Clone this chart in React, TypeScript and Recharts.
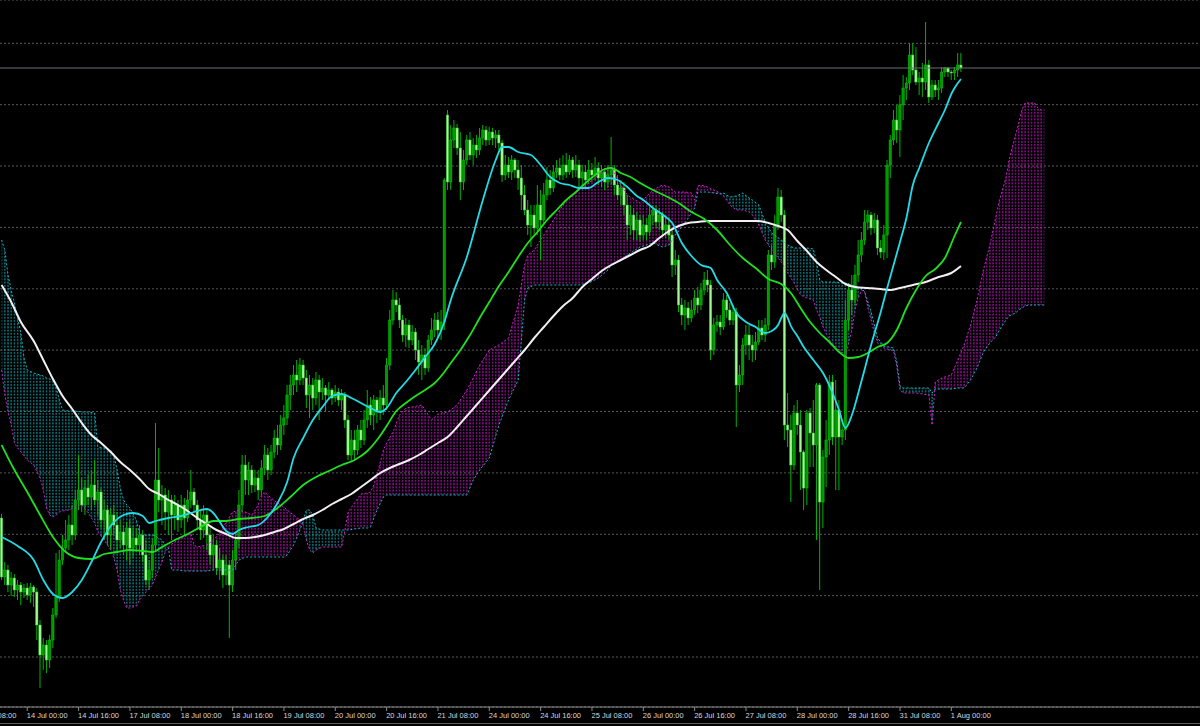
import React from "react";
import {
  ComposedChart,
  Bar,
  Line,
  Area,
  XAxis,
  YAxis,
  CartesianGrid,
  ReferenceLine,
} from "recharts";

// H1 bars, one array per session: [open, high, low, close] (price in points)
const jul13 = [
  [202, 206, 140, 143], [143, 158, 135, 150], [150, 155, 128, 135], [135, 148, 124, 142],
  [142, 146, 123, 130], [130, 140, 120, 135], [135, 138, 115, 128], [128, 136, 122, 132],
];
const jul14 = [
  [132, 137, 120, 125], [125, 137, 117, 133], [133, 135, 113, 128], [128, 132, 80, 95],
  [95, 100, 32, 65], [65, 82, 50, 75], [75, 80, 47, 60], [60, 85, 52, 80],
  [80, 112, 72, 105], [105, 167, 102, 123], [123, 170, 118, 160], [160, 185, 155, 172],
  [172, 200, 168, 180], [180, 205, 170, 195], [195, 215, 175, 185], [185, 230, 180, 220],
  [220, 265, 210, 230], [230, 242, 208, 215], [215, 240, 205, 232], [232, 245, 215, 223],
  [223, 250, 210, 235], [235, 260, 215, 220], [220, 240, 205, 228], [228, 232, 192, 200],
];
const jul17 = [
  [200, 220, 180, 210], [210, 215, 175, 185], [185, 212, 170, 205], [205, 215, 185, 195],
  [195, 208, 168, 180], [180, 200, 172, 188], [188, 195, 165, 175], [175, 198, 160, 192],
  [192, 200, 155, 172], [172, 194, 162, 182], [182, 192, 168, 175], [175, 195, 165, 185],
  [185, 190, 158, 165], [165, 180, 135, 140], [140, 160, 130, 150], [150, 182, 142, 175],
  [175, 297, 170, 240], [240, 272, 208, 220], [220, 235, 195, 225], [225, 232, 190, 208],
  [208, 230, 185, 220], [220, 225, 180, 205], [205, 225, 190, 215], [215, 220, 188, 200],
];
const jul18 = [
  [200, 225, 192, 215], [215, 222, 185, 202], [202, 230, 198, 220], [220, 250, 212, 228],
  [228, 232, 208, 215], [215, 220, 190, 200], [200, 210, 180, 190], [190, 215, 182, 205],
  [205, 210, 170, 185], [185, 192, 155, 165], [165, 185, 150, 175], [175, 180, 145, 152],
  [152, 172, 140, 160], [160, 165, 132, 145], [145, 165, 135, 155], [155, 160, 82, 135],
  [135, 170, 128, 160], [160, 188, 150, 180], [180, 230, 172, 215], [215, 265, 208, 255],
  [255, 265, 225, 240], [240, 258, 225, 250], [250, 255, 227, 235], [235, 250, 228, 242],
];
const jul19 = [
  [242, 250, 220, 230], [230, 260, 225, 252], [252, 275, 245, 265], [265, 272, 240, 250],
  [250, 275, 245, 268], [268, 290, 262, 282], [282, 295, 265, 275], [275, 305, 270, 295],
  [295, 315, 285, 302], [302, 335, 295, 325], [325, 345, 310, 335], [335, 355, 325, 345],
  [345, 360, 328, 340], [340, 362, 335, 355], [355, 360, 335, 342], [342, 350, 312, 325],
  [325, 345, 302, 335], [335, 342, 310, 322], [322, 348, 315, 340], [340, 345, 300, 328],
  [328, 342, 320, 332], [332, 335, 308, 325], [325, 338, 320, 330], [330, 332, 315, 322],
];
const jul20 = [
  [322, 335, 318, 328], [328, 332, 314, 320], [320, 331, 310, 325], [325, 328, 292, 300],
  [300, 305, 260, 265], [265, 290, 258, 280], [280, 290, 260, 270], [270, 295, 265, 290],
  [290, 300, 272, 280], [280, 310, 275, 300], [300, 330, 292, 315], [315, 323, 295, 305],
  [305, 325, 290, 320], [320, 323, 297, 308], [308, 330, 300, 322], [322, 335, 305, 315],
  [315, 362, 310, 355], [355, 410, 350, 400], [400, 430, 395, 420], [420, 428, 408, 415],
  [415, 422, 392, 400], [400, 405, 378, 385], [385, 402, 373, 395], [395, 400, 372, 380],
];
const jul21 = [
  [380, 395, 375, 388], [388, 392, 360, 370], [370, 380, 345, 358], [358, 375, 340, 365],
  [365, 372, 345, 352], [352, 385, 348, 380], [380, 402, 375, 390], [390, 407, 383, 400],
  [400, 408, 382, 390], [390, 410, 380, 398], [398, 542, 390, 540], [605, 610, 530, 538],
  [538, 595, 530, 580], [580, 600, 572, 592], [592, 596, 565, 572], [572, 588, 520, 538],
  [538, 570, 530, 560], [560, 585, 555, 580], [580, 588, 560, 565], [565, 582, 555, 575],
  [575, 585, 562, 570], [570, 592, 565, 582], [582, 595, 575, 590], [590, 594, 574, 580],
];
const jul24 = [
  [580, 593, 575, 588], [588, 592, 575, 582], [582, 590, 572, 585], [585, 590, 570, 577],
  [577, 580, 538, 545], [545, 565, 540, 555], [555, 563, 542, 548], [548, 565, 540, 560],
  [560, 562, 542, 550], [550, 560, 530, 542], [542, 555, 510, 525], [525, 535, 505, 510],
  [510, 520, 485, 495], [495, 515, 473, 505], [505, 515, 485, 492], [492, 535, 485, 515],
  [515, 530, 460, 500], [500, 537, 495, 525], [525, 553, 520, 540], [540, 550, 525, 532],
  [532, 555, 528, 548], [548, 560, 542, 552], [552, 562, 540, 545], [545, 565, 540, 555],
];
const jul25 = [
  [555, 567, 542, 548], [548, 565, 545, 560], [560, 563, 542, 550], [550, 565, 543, 555],
  [555, 560, 533, 542], [542, 555, 534, 548], [548, 555, 532, 540], [540, 560, 536, 550],
  [550, 557, 538, 545], [545, 563, 540, 552], [552, 558, 535, 542], [542, 555, 533, 548],
  [548, 552, 530, 538], [538, 555, 532, 545], [545, 583, 535, 550], [550, 555, 525, 535],
  [535, 545, 520, 525], [525, 540, 515, 532], [532, 538, 505, 515], [515, 525, 480, 495],
  [495, 515, 485, 505], [505, 512, 480, 490], [490, 508, 480, 500], [500, 505, 478, 485],
];
const jul26 = [
  [485, 505, 480, 495], [495, 502, 480, 488], [488, 513, 484, 505], [505, 515, 495, 510],
  [510, 515, 492, 498], [498, 512, 490, 505], [505, 508, 483, 490], [490, 502, 482, 495],
  [495, 503, 480, 485], [485, 492, 443, 455], [455, 470, 445, 460], [460, 465, 408, 415],
  [415, 422, 395, 405], [405, 420, 390, 412], [412, 418, 395, 402], [402, 420, 398, 410],
  [410, 430, 405, 422], [422, 433, 407, 415], [415, 437, 410, 430], [430, 448, 425, 440],
  [440, 450, 428, 435], [435, 440, 360, 370], [370, 402, 365, 395], [395, 405, 388, 398],
];
const jul27 = [
  [398, 405, 385, 393], [393, 427, 390, 420], [420, 425, 402, 410], [410, 417, 395, 400],
  [400, 415, 395, 408], [408, 412, 293, 335], [335, 355, 328, 345], [345, 382, 335, 375],
  [375, 395, 365, 385], [385, 395, 360, 375], [375, 385, 358, 370], [370, 388, 360, 378],
  [378, 400, 375, 392], [392, 400, 380, 385], [385, 402, 378, 395], [395, 470, 390, 465],
  [465, 475, 450, 458], [458, 505, 452, 495], [495, 532, 490, 523], [523, 530, 498, 505],
  [505, 510, 280, 295], [295, 327, 273, 290], [290, 305, 218, 255], [255, 315, 250, 307],
];
const jul28 = [
  [307, 320, 285, 295], [295, 310, 230, 268], [268, 270, 210, 232], [232, 310, 215, 307],
  [307, 312, 253, 287], [287, 320, 253, 275], [275, 337, 180, 335], [335, 337, 130, 218],
  [218, 270, 192, 263], [263, 300, 233, 280], [280, 345, 265, 338], [338, 345, 275, 283],
  [283, 340, 230, 310], [310, 320, 230, 283], [283, 300, 275, 290], [290, 420, 280, 400],
  [400, 437, 390, 430], [430, 445, 405, 420], [420, 455, 415, 445], [445, 480, 438, 465],
  [465, 488, 458, 480], [480, 510, 475, 498], [498, 510, 490, 505], [505, 508, 485, 492],
];
const jul31 = [
  [492, 507, 487, 500], [500, 505, 465, 472], [472, 480, 462, 468], [468, 495, 460, 485],
  [485, 560, 462, 555], [555, 585, 542, 580], [580, 610, 575, 600], [600, 615, 577, 590],
  [590, 625, 563, 615], [615, 645, 600, 632], [632, 643, 620, 637], [637, 677, 630, 665],
  [665, 677, 645, 650], [650, 673, 635, 638], [638, 648, 625, 642], [642, 657, 623, 638],
  [638, 698, 630, 655], [655, 660, 617, 623], [623, 640, 620, 635], [635, 640, 623, 630],
  [630, 640, 620, 632], [632, 653, 627, 648], [648, 653, 643, 652], [652, 653, 643, 648],
];
const aug01 = [
  [648, 650, 640, 647], [647, 653, 640, 650], [650, 667, 643, 655], [655, 667, 648, 652],
];

// moving averages: [bar index, value]
const maFast = [
  [0, 183], [5, 174], [10, 160], [13, 140], [16, 126], [19, 122], [22, 128], [25, 140],
  [28, 158], [31, 178], [35, 198], [38, 205], [41, 207], [44, 204], [46, 197], [48, 199],
  [52, 202], [56, 204], [60, 208], [64, 211], [66, 207], [68, 198], [70, 189], [72, 186],
  [74, 190], [77, 193], [80, 195], [83, 203], [86, 217], [89, 238], [91, 262], [94, 282],
  [97, 300], [100, 313], [103, 324], [106, 326], [109, 322], [112, 317], [115, 312], [118, 308],
  [120, 312], [123, 327], [126, 338], [129, 350], [132, 363], [135, 376], [138, 398], [140, 420],
  [145, 463], [150, 520], [154, 560], [156, 573], [158, 573], [161, 568], [165, 565], [168, 555],
  [171, 543], [174, 537], [177, 535], [180, 532], [183, 532], [186, 538], [189, 542], [192, 540],
  [195, 533], [198, 524], [200, 520], [203, 512], [207, 503], [209, 497], [212, 477], [215, 464],
  [218, 455], [221, 452], [223, 440], [226, 427], [229, 407], [232, 398], [235, 393], [238, 387],
  [240, 389], [242, 395], [243, 402], [244, 407], [245, 402], [246, 394], [248, 384], [250, 373],
  [253, 360], [256, 347], [259, 327], [261, 310], [263, 292], [265, 305], [268, 339], [271, 375],
  [274, 408], [276, 432], [278, 455], [280, 478], [282, 502], [284, 535], [286, 552], [289, 577],
  [292, 597], [294, 610], [296, 626], [297, 632], [299, 641],
];
const maMid = [
  [0, 275], [4, 250], [8, 228], [12, 205], [16, 183], [20, 168], [24, 162], [28, 161],
  [32, 166], [36, 168], [40, 170], [44, 169], [47, 168], [50, 173], [54, 180], [58, 186],
  [62, 193], [66, 199], [70, 199], [74, 201], [78, 202], [82, 204], [86, 212], [90, 223],
  [94, 235], [98, 243], [102, 249], [106, 255], [110, 260], [114, 269], [117, 280], [120, 294],
  [123, 309], [126, 317], [129, 324], [132, 330], [135, 337], [138, 348], [140, 357], [143, 370],
  [146, 385], [149, 402], [152, 418], [155, 434], [158, 448], [161, 463], [164, 477], [167, 488],
  [170, 500], [173, 510], [176, 520], [179, 528], [182, 537], [185, 545], [188, 551], [190, 552],
  [193, 547], [196, 543], [199, 537], [203, 530], [207, 524], [211, 517], [215, 508], [219, 501],
  [223, 490], [227, 475], [231, 462], [235, 452], [239, 441], [243, 436], [246, 427], [249, 412],
  [252, 398], [255, 387], [258, 378], [261, 368], [264, 362], [267, 363], [270, 367], [273, 373],
  [276, 377], [279, 390], [282, 412], [285, 430], [288, 444], [291, 451], [294, 462], [297, 484],
  [299, 498],
];
const maSlow = [
  [0, 435], [3, 418], [6, 398], [10, 379], [13, 360], [16, 341], [19, 324], [22, 311],
  [25, 297], [28, 285], [31, 277], [34, 268], [37, 258], [40, 250], [43, 241], [46, 231],
  [49, 226], [52, 220], [55, 215], [58, 209], [61, 202], [64, 196], [67, 190], [70, 186],
  [73, 182], [76, 182], [79, 183], [82, 185], [85, 188], [88, 191], [91, 196], [94, 201],
  [97, 205], [100, 210], [103, 216], [106, 221], [109, 226], [112, 233], [115, 240], [118, 247],
  [121, 252], [124, 256], [127, 260], [130, 265], [133, 271], [136, 277], [139, 283], [142, 293],
  [145, 304], [148, 315], [151, 326], [154, 337], [157, 348], [160, 359], [163, 370], [166, 382],
  [169, 393], [172, 404], [175, 414], [178, 422], [181, 433], [184, 441], [187, 449], [190, 455],
  [193, 460], [196, 465], [199, 470], [202, 474], [205, 482], [208, 489], [211, 494], [214, 497],
  [217, 498], [220, 499], [226, 499], [232, 499], [236, 499], [239, 497], [242, 494], [245, 490],
  [248, 479], [251, 469], [254, 458], [257, 450], [260, 443], [263, 436], [266, 433], [270, 432],
  [274, 431], [277, 430], [280, 432], [284, 435], [288, 438], [292, 443], [296, 447], [299, 454],
];

// Ichimoku cloud (shifted 26 bars forward): [bar index, senkou A, senkou B]
const kumo = [
  [0, 350, 480], [1, 325, 470], [2, 308, 445], [3, 295, 430], [4, 277, 417], [5, 272, 402],
  [6, 268, 387], [7, 264, 362], [8, 260, 350], [10, 255, 347], [12, 242, 345], [13, 230, 344],
  [14, 212, 342], [15, 205, 341], [16, 203, 340], [17, 205, 332], [18, 208, 320], [19, 209, 310],
  [21, 210, 309], [23, 213, 309], [25, 215, 308], [27, 207, 308], [29, 197, 307], [30, 188, 273],
  [32, 180, 272], [34, 170, 270], [35, 162, 265], [36, 150, 250], [37, 130, 232], [38, 120, 220],
  [39, 112, 215], [40, 112, 212], [42, 114, 200], [43, 120, 185], [45, 128, 185], [47, 135, 185],
  [48, 143, 184], [50, 158, 180], [51, 168, 175], [52, 173, 172], [53, 176, 150], [55, 180, 150],
  [57, 183, 149], [59, 187, 149], [60, 175, 149], [61, 173, 149], [64, 175, 149], [66, 180, 150],
  [68, 187, 150], [70, 198, 150], [72, 208, 150], [74, 210, 160], [76, 208, 163], [78, 205, 163],
  [80, 215, 163], [81, 225, 163], [82, 228, 163], [84, 222, 163], [86, 217, 163], [88, 213, 163],
  [89, 210, 165], [91, 205, 175], [93, 200, 190], [94, 195, 200], [95, 180, 210], [96, 170, 210],
  [97, 167, 205], [98, 170, 192], [100, 173, 190], [103, 173, 190], [106, 173, 190], [107, 190, 190],
  [108, 208, 190], [110, 217, 191], [112, 226, 192], [114, 227, 192], [115, 228, 193], [116, 235, 202],
  [117, 245, 210], [119, 270, 223], [120, 277, 225], [122, 288, 225], [124, 305, 225], [126, 312, 225],
  [128, 313, 225], [131, 315, 225], [132, 310, 225], [134, 300, 225], [136, 306, 225], [139, 308, 225],
  [142, 315, 225], [145, 330, 225], [147, 342, 240], [149, 355, 250], [152, 370, 262], [155, 375, 295],
  [158, 382, 320], [161, 415, 340], [163, 455, 420], [164, 465, 432], [166, 470, 435], [169, 485, 435],
  [172, 500, 435], [175, 515, 435], [177, 523, 435], [180, 530, 435], [183, 537, 437], [186, 545, 442],
  [189, 552, 450], [190, 553, 455], [192, 540, 458], [195, 525, 465], [199, 517, 473], [203, 530, 477],
  [206, 535, 473], [208, 533, 475], [210, 528, 485], [213, 528, 497], [215, 527, 507], [216, 520, 512],
  [217, 534, 528], [218, 535, 528], [220, 533, 528], [222, 530, 527], [224, 527, 526], [225, 524, 527],
  [227, 515, 523], [229, 510, 524], [231, 510, 527], [233, 508, 522], [234, 505, 520], [236, 495, 515],
  [238, 480, 498], [240, 470, 487], [243, 458, 480], [245, 447, 475], [247, 437, 472], [249, 425, 472],
  [251, 422, 472], [253, 420, 471], [254, 410, 458], [255, 403, 440], [256, 393, 438], [258, 380, 438],
  [260, 373, 438], [262, 367, 437], [263, 363, 437], [265, 390, 435], [266, 410, 434], [267, 422, 433],
  [268, 430, 432], [269, 428, 428], [270, 412, 418], [271, 400, 408], [272, 387, 395], [273, 377, 382],
  [275, 372, 374], [278, 369, 372], [279, 354, 358], [280, 330, 334], [281, 327, 332], [285, 327, 332],
  [289, 325, 332], [290, 295, 327], [291, 338, 331], [293, 342, 331], [296, 345, 331], [298, 360, 332],
  [300, 375, 332], [302, 395, 340], [304, 420, 352], [306, 450, 368], [308, 475, 377], [310, 505, 384],
  [311, 520, 390], [313, 542, 400], [314, 560, 404], [316, 585, 407], [317, 597, 410], [318, 610, 412],
  [319, 617, 414], [320, 617, 415], [322, 617, 415], [323, 612, 415], [324, 610, 415], [325, 610, 415],
];

// time axis (bar index of each label) and horizontal grid levels
const tickIdx = [-8, 8, 24, 40, 56, 72, 88, 104, 120, 136, 152, 168, 184, 200, 216, 232, 248, 264, 280, 296];
const tickLabels = [
  "13 Jul 08:00", "14 Jul 00:00", "14 Jul 16:00", "17 Jul 08:00", "18 Jul 00:00",
  "18 Jul 16:00", "19 Jul 08:00", "20 Jul 00:00", "20 Jul 16:00", "21 Jul 08:00",
  "24 Jul 00:00", "24 Jul 16:00", "25 Jul 08:00", "26 Jul 00:00", "26 Jul 16:00",
  "27 Jul 08:00", "28 Jul 00:00", "28 Jul 16:00", "31 Jul 08:00", "1 Aug 00:00",
];
const gridLevels = [63.0, 124.4, 185.7, 247.1, 308.5, 369.9, 431.2, 492.6, 554.0, 615.3, 676.7];

const SLOTS = 374; // bar slots that fit across the window, incl. the right shift
const BW = 1200 / SLOTS;

const candles = [jul13, jul14, jul17, jul18, jul19, jul20, jul21, jul24, jul25, jul26, jul27, jul28, jul31, aug01]
  .flat()
  .map(([o, h, l, c], i) => ({ i, o, h, l, c, range: [l, h] }));
const lastClose = candles[candles.length - 1].c;

const kumoRows = kumo.map(([i, a, b]) => {
  const mid = (a + b) / 2;
  return { i, a, b, up: a >= b ? [b, a] : [mid, mid], down: a < b ? [a, b] : [mid, mid] };
});
const toRows = (pts: number[][]) => pts.map(([i, v]) => ({ i, v }));

function Candle(props: any) {
  const { x, y, width, height, payload } = props;
  if (x == null || y == null) return null;
  const { o, h, l, c } = payload;
  const top = height >= 0 ? y : y + height;
  const hh = Math.abs(height);
  const cx = x + width / 2;
  const k = h === l ? 0 : hh / (h - l);
  const bTop = top + (h - Math.max(o, c)) * k;
  const bBot = top + (h - Math.min(o, c)) * k;
  const bull = c >= o;
  return (
    <g>
      <line x1={cx} x2={cx} y1={top} y2={top + hh} stroke="#00b400" strokeWidth={1} />
      <rect
        x={cx - 1.2}
        y={bTop}
        width={2.4}
        height={Math.max(bBot - bTop, 0.8)}
        fill={bull ? "#009a00" : "#a4f894"}
        stroke={bull ? "#00c400" : "#34c034"}
        strokeWidth={0.5}
      />
    </g>
  );
}

function TimeTick(props: any) {
  const { x, y, payload } = props;
  const label = tickLabels[tickIdx.indexOf(payload.value)];
  return (
    <text
      x={x - 0.5}
      y={y}
      dy={7}
      textAnchor="start"
      fill="#d8d8d8"
      fontSize={7.5}
      fontFamily="'Liberation Sans', Arial, sans-serif"
    >
      {label}
    </text>
  );
}

const lineProps = { dot: false, activeDot: false, isAnimationActive: false } as const;

export default function App() {
  return (
    <div
      style={{
        position: "absolute",
        left: 0,
        top: 0,
        width: 1200,
        height: 726,
        background: "#000",
        overflow: "hidden",
      }}
    >
      <ComposedChart width={1200} height={726} data={candles} margin={{ top: 0, right: 0, bottom: 0, left: 0 }}>
        <defs>
          <pattern id="kumoUp" patternUnits="userSpaceOnUse" width={BW} height={3.2}>
            <rect x={BW / 2 - 0.5} y={0} width={1} height={2} fill="#c814c8" />
          </pattern>
          <pattern id="kumoDown" patternUnits="userSpaceOnUse" width={BW} height={3.2}>
            <rect x={BW / 2 - 0.5} y={0} width={1} height={2} fill="#12a4b0" />
          </pattern>
        </defs>
        <CartesianGrid vertical={false} stroke="#585858" strokeDasharray="2 2" />
        <XAxis
          dataKey="i"
          type="number"
          domain={[-0.5, SLOTS - 0.5]}
          ticks={tickIdx}
          interval={0}
          height={19}
          tickSize={4}
          tickMargin={0}
          stroke="#8c8c8c"
          tick={<TimeTick />}
          allowDataOverflow
        />
        <YAxis hide type="number" domain={[13, 720]} ticks={gridLevels} allowDataOverflow />
        <ReferenceLine y={lastClose} stroke="#6a7076" strokeWidth={1} />
        <Area data={kumoRows} dataKey="up" type="linear" stroke="none" fill="url(#kumoUp)" fillOpacity={1} {...lineProps} />
        <Area data={kumoRows} dataKey="down" type="linear" stroke="none" fill="url(#kumoDown)" fillOpacity={1} {...lineProps} />
        <Line data={kumoRows} dataKey="a" type="linear" stroke="#d21ed2" strokeWidth={1} strokeDasharray="2 2" {...lineProps} />
        <Line data={kumoRows} dataKey="b" type="linear" stroke="#16b4c4" strokeWidth={1} strokeDasharray="2 2" {...lineProps} />
        <Bar dataKey="range" barSize={3} shape={<Candle />} isAnimationActive={false} />
        <Line data={toRows(maSlow)} dataKey="v" type="monotone" stroke="#f2eef2" strokeWidth={2} {...lineProps} />
        <Line data={toRows(maMid)} dataKey="v" type="monotone" stroke="#1ee11e" strokeWidth={1.8} {...lineProps} />
        <Line data={toRows(maFast)} dataKey="v" type="monotone" stroke="#22dbe6" strokeWidth={1.8} {...lineProps} />
      </ComposedChart>
      <div style={{ position: "absolute", left: 0, top: 723, width: 1200, height: 1, background: "#5e5e5e" }} />
    </div>
  );
}
